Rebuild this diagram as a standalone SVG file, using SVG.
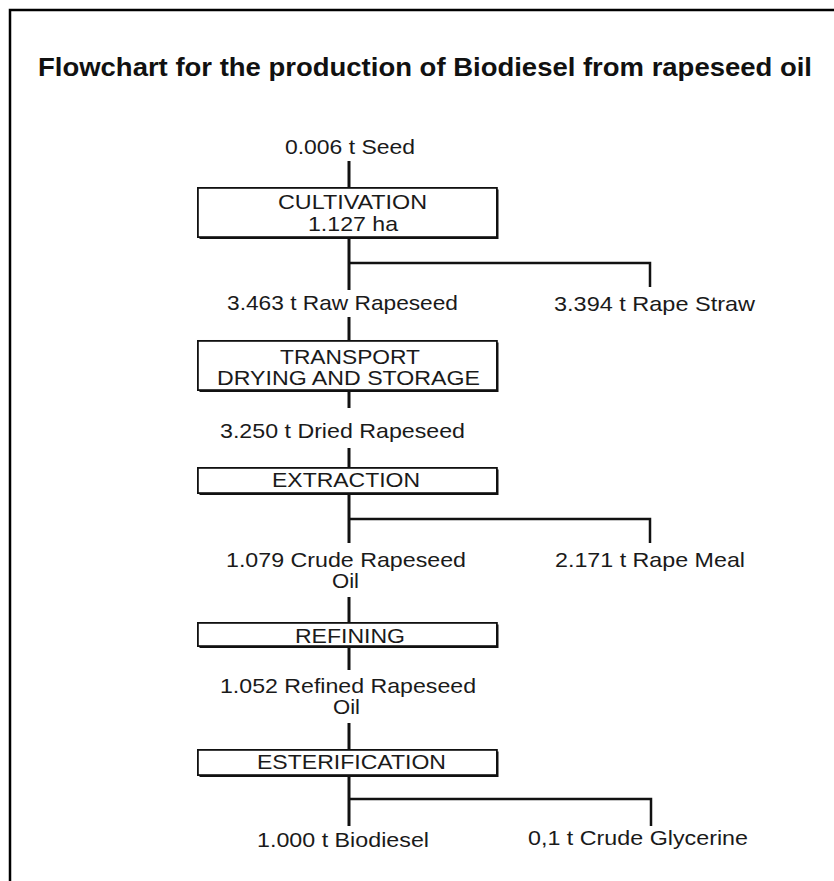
<svg xmlns="http://www.w3.org/2000/svg" width="834" height="881" viewBox="0 0 834 881">
<style>
  .t{font-family:"Liberation Sans",Arial,Helvetica,sans-serif;font-size:21px;fill:#1a1a1a;}
  .title{font-family:"Liberation Sans",Arial,Helvetica,sans-serif;font-size:26px;font-weight:bold;fill:#111;}
  .box{fill:#fff;stroke:#111;stroke-width:1.8;}
  .shadow{fill:#111;}
  .main{stroke:#111;stroke-width:3;fill:none;}
  .branch{stroke:#111;stroke-width:2.5;fill:none;}
</style>
<rect x="0" y="0" width="834" height="881" fill="#fff"/>
<path d="M10,881 V10 H834" fill="none" stroke="#000" stroke-width="2.5"/>
<text class="title" x="38" y="76" textLength="774" lengthAdjust="spacingAndGlyphs">Flowchart for the production of Biodiesel from rapeseed oil</text>

<g id="connectors">
  <line class="main" x1="349" y1="161" x2="349" y2="187"/>
  <line class="main" x1="349" y1="239" x2="349" y2="290"/>
  <polyline class="branch" points="349,263 650,263 650,287"/>
  <line class="main" x1="349" y1="317" x2="349" y2="340"/>
  <line class="main" x1="349" y1="392" x2="349" y2="408"/>
  <line class="main" x1="349" y1="448" x2="349" y2="467"/>
  <line class="main" x1="349" y1="495" x2="349" y2="543"/>
  <polyline class="branch" points="349,519 650,519 650,543"/>
  <line class="main" x1="349" y1="597" x2="349" y2="622"/>
  <line class="main" x1="349" y1="648" x2="349" y2="670"/>
  <line class="main" x1="349" y1="723" x2="349" y2="749"/>
  <line class="main" x1="349" y1="777" x2="349" y2="826"/>
  <polyline class="branch" points="349,799 651,799 651,826"/>
</g>

<g id="seed"><text class="t" x="285" y="154" textLength="130" lengthAdjust="spacingAndGlyphs">0.006 t Seed</text></g>

<g id="cultivation">
  <rect class="shadow" x="199.5" y="189.5" width="299" height="49.5"/>
  <rect class="box" x="197.9" y="187.9" width="299" height="49.2"/>
  <text class="t" x="278" y="209" textLength="149" lengthAdjust="spacingAndGlyphs">CULTIVATION</text>
  <text class="t" x="308" y="231" textLength="90" lengthAdjust="spacingAndGlyphs">1.127 ha</text>
</g>

<g id="raw-rapeseed"><text class="t" x="227" y="310" textLength="231" lengthAdjust="spacingAndGlyphs">3.463 t Raw Rapeseed</text></g>
<g id="rape-straw"><text class="t" x="554" y="311" textLength="201" lengthAdjust="spacingAndGlyphs">3.394 t Rape Straw</text></g>

<g id="transport">
  <rect class="shadow" x="199.5" y="342.5" width="299" height="49.5"/>
  <rect class="box" x="197.9" y="340.9" width="299" height="49.2"/>
  <text class="t" x="280" y="364" textLength="140" lengthAdjust="spacingAndGlyphs">TRANSPORT</text>
  <text class="t" x="217" y="385" textLength="263" lengthAdjust="spacingAndGlyphs">DRYING AND STORAGE</text>
</g>

<g id="dried-rapeseed"><text class="t" x="220" y="438" textLength="245" lengthAdjust="spacingAndGlyphs">3.250 t Dried Rapeseed</text></g>

<g id="extraction">
  <rect class="shadow" x="199.5" y="469.5" width="299" height="25.5"/>
  <rect class="box" x="197.9" y="467.9" width="299" height="25.2"/>
  <text class="t" x="272" y="487" textLength="148" lengthAdjust="spacingAndGlyphs">EXTRACTION</text>
</g>

<g id="crude-oil">
  <text class="t" x="226" y="567" textLength="240" lengthAdjust="spacingAndGlyphs">1.079 Crude Rapeseed</text>
  <text class="t" x="332" y="588" textLength="27" lengthAdjust="spacingAndGlyphs">Oil</text>
</g>
<g id="rape-meal"><text class="t" x="555" y="567" textLength="190" lengthAdjust="spacingAndGlyphs">2.171 t Rape Meal</text></g>

<g id="refining">
  <rect class="shadow" x="199.5" y="624.5" width="299" height="23.5"/>
  <rect class="box" x="197.9" y="622.9" width="299" height="23.2"/>
  <text class="t" x="295" y="643" textLength="110" lengthAdjust="spacingAndGlyphs">REFINING</text>
</g>

<g id="refined-oil">
  <text class="t" x="220" y="693" textLength="256" lengthAdjust="spacingAndGlyphs">1.052 Refined Rapeseed</text>
  <text class="t" x="333" y="714" textLength="27" lengthAdjust="spacingAndGlyphs">Oil</text>
</g>

<g id="esterification">
  <rect class="shadow" x="199.5" y="751.5" width="299" height="25.5"/>
  <rect class="box" x="197.9" y="749.9" width="299" height="25.2"/>
  <text class="t" x="257" y="769" textLength="189" lengthAdjust="spacingAndGlyphs">ESTERIFICATION</text>
</g>

<g id="biodiesel"><text class="t" x="257" y="847" textLength="172" lengthAdjust="spacingAndGlyphs">1.000 t Biodiesel</text></g>
<g id="glycerine"><text class="t" x="528" y="845" textLength="220" lengthAdjust="spacingAndGlyphs">0,1 t Crude Glycerine</text></g>
</svg>
